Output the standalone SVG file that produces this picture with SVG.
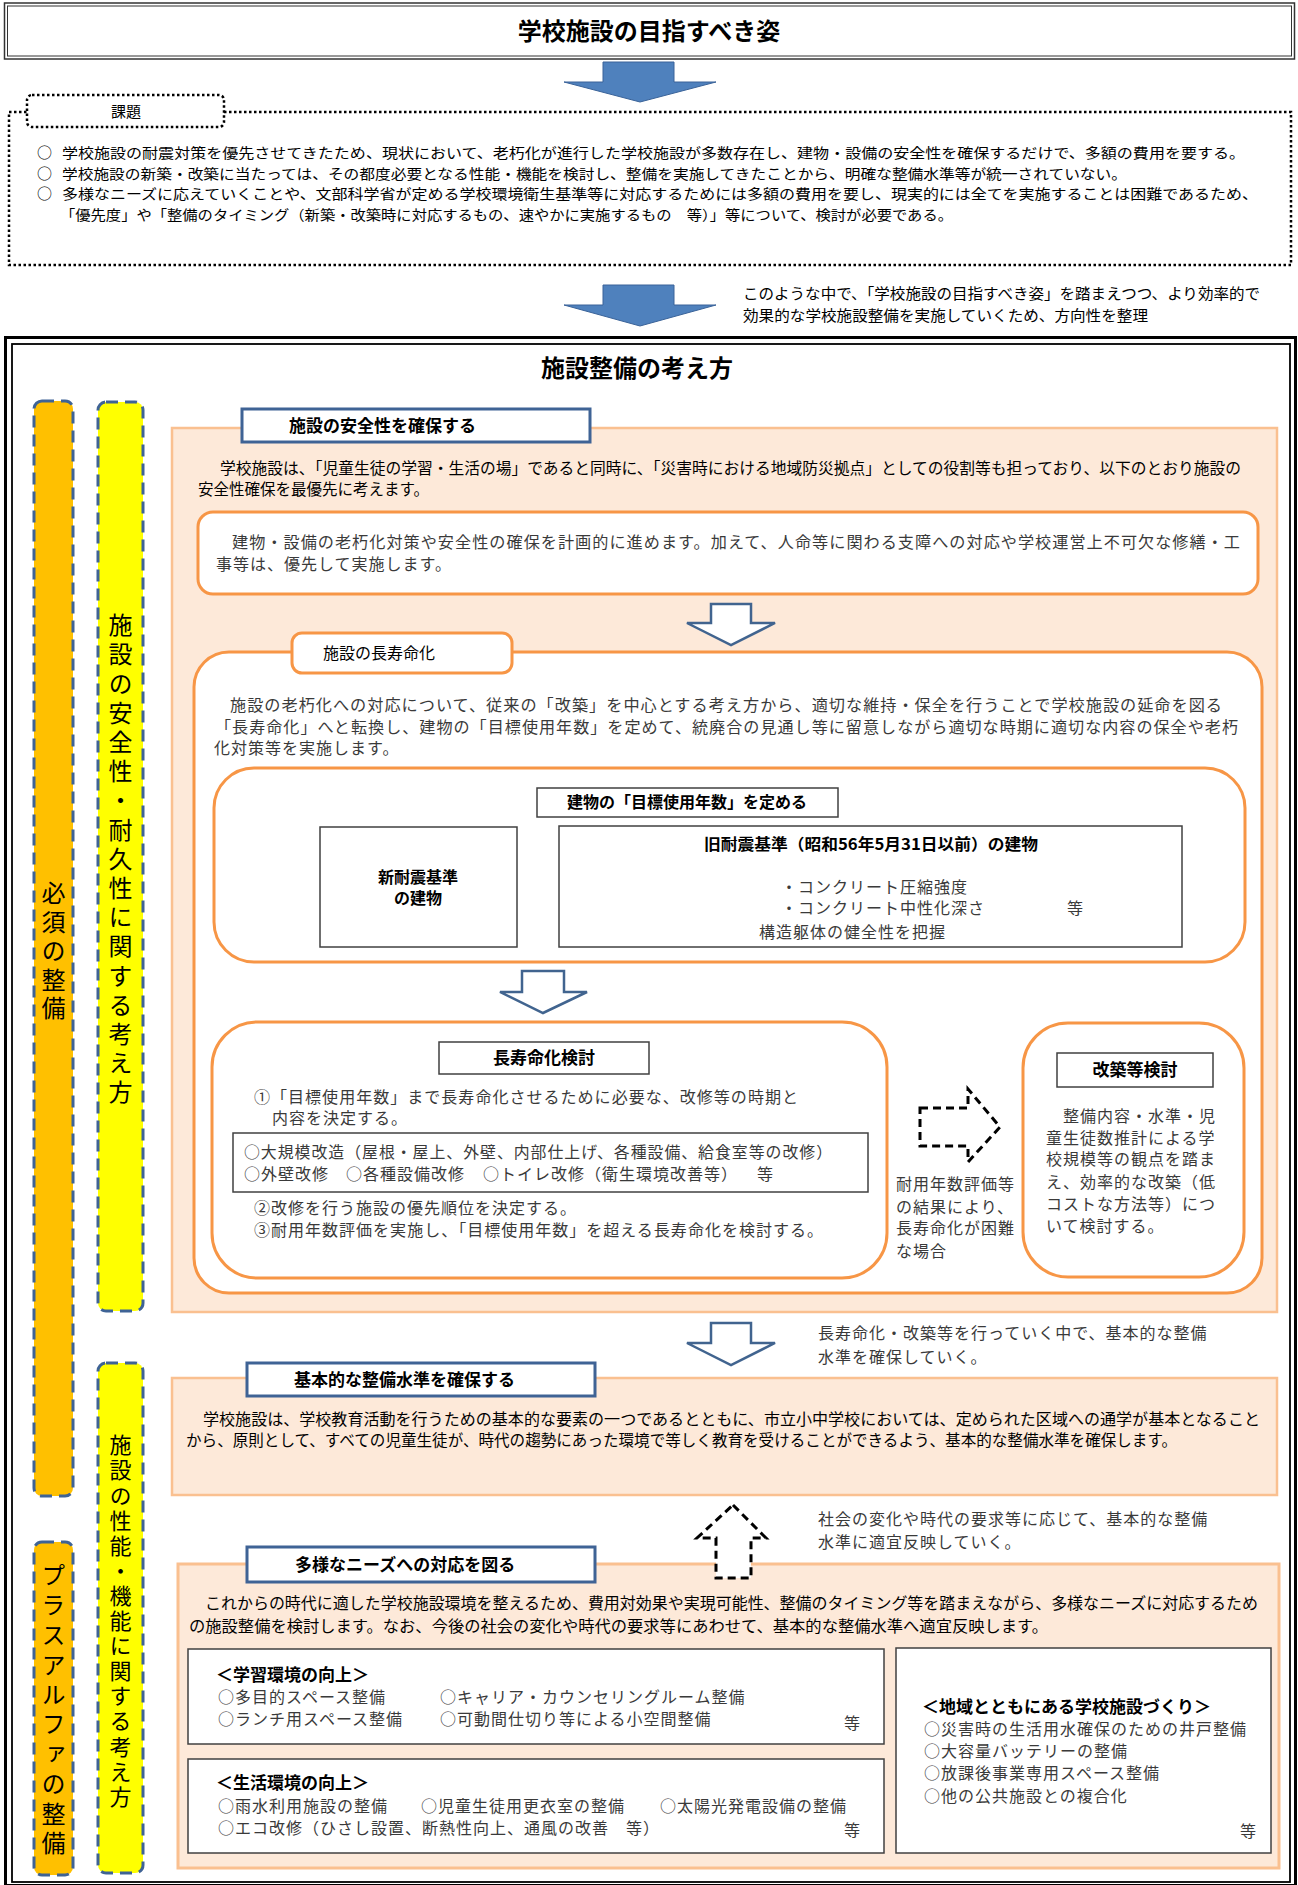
<svg xmlns="http://www.w3.org/2000/svg" width="1298" height="1885" viewBox="0 0 1298 1885">
<defs>
<style>
text{font-family:"Noto Sans CJK JP","Noto Sans CJK SC",sans-serif;fill:#000}
.g{font-size:15.5px}
.m{font-size:16px;fill:#3a3a3a;letter-spacing:1px}
.b{font-weight:700;font-size:17px}
.v{font-size:24px;writing-mode:vertical-rl;text-orientation:upright}
.panel{fill:#FDE9D9;stroke:#FAC090;stroke-width:2.5}
.ob{fill:#fff;stroke:#F79646;stroke-width:3}
.bl{fill:#fff;stroke:#3F6395;stroke-width:3}
.kb{fill:#fff;stroke:#404040;stroke-width:1.5}
.bar{stroke:#3F6395;stroke-width:3;stroke-dasharray:12 7}
.ha{fill:#fff;stroke:#41648F;stroke-width:2.5}
.da{fill:#fff;stroke:#000;stroke-width:3;stroke-dasharray:8 5}
.ba{fill:#4F81BD;stroke:#3A6399;stroke-width:1}
.dot{fill:none;stroke:#000;stroke-width:2.5;stroke-dasharray:2.5 2.5}
</style>
</defs>
<rect width="1298" height="1885" fill="#fff"/>

<g id="title">
<rect x="4.5" y="3" width="1290" height="56" fill="#fff" stroke="#333" stroke-width="1.5"/>
<rect x="7.5" y="6" width="1284" height="50" fill="none" stroke="#333" stroke-width="1"/>
<text x="649" y="40" font-size="24" font-weight="700" text-anchor="middle">学校施設の目指すべき姿</text>
</g>

<g id="kadai">
<rect class="dot" x="9" y="112" width="1282" height="153"/>
<rect class="dot" x="27" y="95" width="197" height="32" rx="5" style="fill:#fff"/>
<text x="126" y="117" font-size="15" text-anchor="middle">課題</text>
<text font-size="14"><tspan x="37" y="158" font-size="15">○</tspan><tspan x="62" y="158" textLength="1183" lengthAdjust="spacingAndGlyphs">学校施設の耐震対策を優先させてきたため、現状において、老朽化が進行した学校施設が多数存在し、建物・設備の安全性を確保するだけで、多額の費用を要する。</tspan><tspan x="37" y="178.5" font-size="15">○</tspan><tspan x="62" y="178.5" textLength="1065" lengthAdjust="spacingAndGlyphs">学校施設の新築・改築に当たっては、その都度必要となる性能・機能を検討し、整備を実施してきたことから、明確な整備水準等が統一されていない。</tspan><tspan x="37" y="199" font-size="15">○</tspan><tspan x="62" y="199" textLength="1196" lengthAdjust="spacingAndGlyphs">多様なニーズに応えていくことや、文部科学省が定める学校環境衛生基準等に対応するためには多額の費用を要し、現実的には全てを実施することは困難であるため、</tspan><tspan x="60" y="219.5" textLength="893" lengthAdjust="spacingAndGlyphs">「優先度」や「整備のタイミング（新築・改築時に対応するもの、速やかに実施するもの　等）」等について、検討が必要である。</tspan></text>
</g>

<g id="note-direction">
<text x="743" y="299" font-size="15" textLength="517" lengthAdjust="spacingAndGlyphs">このような中で、「学校施設の目指すべき姿」を踏まえつつ、より効率的で</text>
<text x="743" y="321" font-size="15" textLength="405" lengthAdjust="spacingAndGlyphs">効果的な学校施設整備を実施していくため、方向性を整理</text>
</g>

<g id="main-frame">
<rect x="5.5" y="337.5" width="1290" height="1548" fill="none" stroke="#000" stroke-width="3"/>
<rect x="12" y="344" width="1278" height="1538" fill="none" stroke="#000" stroke-width="1.8"/>
<text x="637" y="377" font-size="24" font-weight="700" text-anchor="middle">施設整備の考え方</text>
</g>

<g id="bar-hissu">
<rect class="bar" x="34" y="401" width="39" height="1095" rx="8" fill="#FFC000"/>
<text class="v" x="53.5" y="881" letter-spacing="4.8">必須の整備</text>
</g>
<g id="bar-plus">
<rect class="bar" x="34" y="1542" width="39" height="333" rx="8" fill="#FFC000"/>
<text class="v" x="53.5" y="1563" letter-spacing="5.8">プラスアルファの整備</text>
</g>
<g id="bar-anzen">
<rect class="bar" x="98" y="402" width="45" height="909" rx="8" fill="#FFFF00"/>
<text class="v" x="120.5" y="613" letter-spacing="5.2">施設の安全性・耐久性に関する考え方</text>
</g>
<g id="bar-seino">
<rect class="bar" x="98" y="1363" width="45" height="510" rx="8" fill="#FFFF00"/>
<text class="v" x="120.5" y="1434" letter-spacing="3.1" style="font-size:22px">施設の性能・機能に関する考え方</text>
</g>

<g id="sec-anzen">
<rect class="panel" x="172" y="428" width="1105" height="884"/>
<rect class="bl" x="242" y="409" width="348" height="33"/>
<text class="b" x="289" y="432">施設の安全性を確保する</text>
<text class="g" x="220" y="474" textLength="1021" lengthAdjust="spacingAndGlyphs">学校施設は、「児童生徒の学習・生活の場」であると同時に、「災害時における地域防災拠点」としての役割等も担っており、以下のとおり施設の</text>
<text class="g" x="198" y="495">安全性確保を最優先に考えます。</text>
</g>

<g id="box-keikaku">
<rect class="ob" x="198" y="512" width="1060" height="82" rx="15"/>
<text class="m" x="232" y="548" textLength="1009" lengthAdjust="spacingAndGlyphs">建物・設備の老朽化対策や安全性の確保を計画的に進めます。加えて、人命等に関わる支障への対応や学校運営上不可欠な修繕・工</text>
<text class="m" x="216" y="570">事等は、優先して実施します。</text>
</g>

<g id="box-choju">
<rect class="ob" x="194" y="652" width="1068" height="641" rx="35"/>
<rect class="ob" x="292" y="633" width="220" height="40" rx="10"/>
<text x="323" y="659" font-size="16">施設の長寿命化</text>
<text class="m" x="230" y="711" textLength="993" lengthAdjust="spacingAndGlyphs">施設の老朽化への対応について、従来の「改築」を中心とする考え方から、適切な維持・保全を行うことで学校施設の延命を図る</text>
<text class="m" x="215" y="733" textLength="1024" lengthAdjust="spacingAndGlyphs">「長寿命化」へと転換し、建物の「目標使用年数」を定めて、統廃合の見通し等に留意しながら適切な時期に適切な内容の保全や老朽</text>
<text class="m" x="214" y="754">化対策等を実施します。</text>
</g>

<g id="box-mokuhyo">
<rect class="ob" x="214" y="768" width="1031" height="194" rx="40"/>
<rect class="kb" x="537" y="788" width="301" height="29"/>
<text class="b" x="687" y="808" text-anchor="middle" style="font-size:16px">建物の「目標使用年数」を定める</text>
</g>
<g id="box-shintaishin">
<rect class="kb" x="320" y="827" width="197" height="120"/>
<text class="b" x="418" y="883" text-anchor="middle" style="font-size:16px">新耐震基準</text>
<text class="b" x="418" y="904" text-anchor="middle" style="font-size:16px">の建物</text>
</g>
<g id="box-kyutaishin">
<rect class="kb" x="559" y="826" width="623" height="121"/>
<text class="b" x="871" y="850" text-anchor="middle" style="font-size:16px" textLength="334" lengthAdjust="spacingAndGlyphs">旧耐震基準（昭和56年5月31日以前）の建物</text>
<text class="m" x="781" y="893">・コンクリート圧縮強度</text>
<text class="m" x="781" y="914">・コンクリート中性化深さ</text>
<text class="m" x="1067" y="914">等</text>
<text class="m" x="759" y="938">構造躯体の健全性を把握</text>
</g>

<g id="box-kento">
<rect class="ob" x="212" y="1022" width="675" height="256" rx="45"/>
<rect class="kb" x="439" y="1042" width="210" height="32"/>
<text class="b" x="544" y="1064" text-anchor="middle">長寿命化検討</text>
<text class="m" x="254" y="1103" textLength="545" lengthAdjust="spacingAndGlyphs">①「目標使用年数」まで長寿命化させるために必要な、改修等の時期と</text>
<text class="m" x="272" y="1124">内容を決定する。</text>
<rect class="kb" x="233" y="1133" width="635" height="59"/>
<text class="m" x="244" y="1158" textLength="589" lengthAdjust="spacingAndGlyphs">○大規模改造（屋根・屋上、外壁、内部仕上げ、各種設備、給食室等の改修）</text>
<text class="m" y="1180"><tspan x="244">○外壁改修</tspan><tspan x="346">○各種設備改修</tspan><tspan x="483">○トイレ改修（衛生環境改善等）</tspan><tspan x="757">等</tspan></text>
<text class="m" x="254" y="1214">②改修を行う施設の優先順位を決定する。</text>
<text class="m" x="254" y="1236" textLength="570" lengthAdjust="spacingAndGlyphs">③耐用年数評価を実施し、「目標使用年数」を超える長寿命化を検討する。</text>
</g>

<g id="note-konnan">
<text class="m" x="896" y="1190">耐用年数評価等</text>
<text class="m" x="896" y="1213">の結果により、</text>
<text class="m" x="896" y="1234">長寿命化が困難</text>
<text class="m" x="896" y="1257">な場合</text>
</g>

<g id="box-kaichiku">
<rect class="ob" x="1023" y="1023" width="221" height="254" rx="45"/>
<rect class="kb" x="1057" y="1053" width="156" height="34"/>
<text class="b" x="1135" y="1076" text-anchor="middle">改築等検討</text>
<text class="m" x="1063" y="1122">整備内容・水準・児</text>
<text class="m" x="1046" y="1144">童生徒数推計による学</text>
<text class="m" x="1046" y="1165">校規模等の観点を踏ま</text>
<text class="m" x="1046" y="1188">え、効率的な改築（低</text>
<text class="m" x="1046" y="1210">コストな方法等）につ</text>
<text class="m" x="1046" y="1232">いて検討する。</text>
</g>

<g id="note-kakuho">
<text class="m" x="818" y="1339">長寿命化・改築等を行っていく中で、基本的な整備</text>
<text class="m" x="818" y="1363">水準を確保していく。</text>
</g>

<g id="sec-kihon">
<rect class="panel" x="172" y="1378" width="1105" height="117"/>
<rect class="bl" x="247" y="1363" width="348" height="33"/>
<text class="b" x="294" y="1386">基本的な整備水準を確保する</text>
<text class="g" x="203" y="1425" textLength="1057" lengthAdjust="spacingAndGlyphs">学校施設は、学校教育活動を行うための基本的な要素の一つであるとともに、市立小中学校においては、定められた区域への通学が基本となること</text>
<text class="g" x="186" y="1446" textLength="991" lengthAdjust="spacingAndGlyphs">から、原則として、すべての児童生徒が、時代の趨勢にあった環境で等しく教育を受けることができるよう、基本的な整備水準を確保します。</text>
</g>

<g id="note-hanei">
<text class="m" x="818" y="1525">社会の変化や時代の要求等に応じて、基本的な整備</text>
<text class="m" x="818" y="1548">水準に適宜反映していく。</text>
</g>

<g id="sec-needs">
<rect class="panel" x="178" y="1564" width="1101" height="304" style="stroke-width:3"/>
<rect class="bl" x="247" y="1547" width="348" height="35"/>
<text class="b" x="295" y="1571">多様なニーズへの対応を図る</text>
<text class="g" x="205" y="1609" textLength="1053" lengthAdjust="spacingAndGlyphs">これからの時代に適した学校施設環境を整えるため、費用対効果や実現可能性、整備のタイミング等を踏まえながら、多様なニーズに対応するため</text>
<text class="g" x="189" y="1632" textLength="859" lengthAdjust="spacingAndGlyphs">の施設整備を検討します。なお、今後の社会の変化や時代の要求等にあわせて、基本的な整備水準へ適宜反映します。</text>
</g>

<g id="box-gakushu">
<rect class="kb" x="188" y="1649" width="696" height="95"/>
<text class="b" x="216" y="1681">＜学習環境の向上＞</text>
<text class="m" x="218" y="1703">○多目的スペース整備</text>
<text class="m" x="440" y="1703">○キャリア・カウンセリングルーム整備</text>
<text class="m" x="218" y="1725">○ランチ用スペース整備</text>
<text class="m" x="440" y="1725">○可動間仕切り等による小空間整備</text>
<text class="m" x="844" y="1729">等</text>
</g>

<g id="box-seikatsu">
<rect class="kb" x="188" y="1759" width="696" height="94"/>
<text class="b" x="216" y="1789">＜生活環境の向上＞</text>
<text class="m" x="218" y="1812">○雨水利用施設の整備</text>
<text class="m" x="421" y="1812">○児童生徒用更衣室の整備</text>
<text class="m" x="660" y="1812">○太陽光発電設備の整備</text>
<text class="m" x="218" y="1834">○エコ改修（ひさし設置、断熱性向上、通風の改善　等）</text>
<text class="m" x="844" y="1836">等</text>
</g>

<g id="box-chiiki">
<rect class="kb" x="896" y="1648" width="375" height="205"/>
<text class="b" x="922" y="1713">＜地域とともにある学校施設づくり＞</text>
<text class="m" x="924" y="1735">○災害時の生活用水確保のための井戸整備</text>
<text class="m" x="924" y="1757">○大容量バッテリーの整備</text>
<text class="m" x="924" y="1779">○放課後事業専用スペース整備</text>
<text class="m" x="924" y="1802">○他の公共施設との複合化</text>
<text class="m" x="1240" y="1837">等</text>
</g>

<g id="connectors">
<polygon class="ba" points="603,62 674,62 674,82 716,82 640,102 564,82 603,82"/>
<polygon class="ba" points="603,285 674,285 674,305 716,305 640,326 564,305 603,305"/>
<polygon class="ha" points="711,604 751,604 751,623 775,623 731,645 687,623 711,623"/>
<polygon class="ha" points="522,971 564,971 564,992 587,992 543,1013 500,992 522,992"/>
<polygon class="ha" points="711,1323 751,1323 751,1343 775,1343 731,1365 687,1343 711,1343"/>
<polygon class="da" points="920,1108 968,1108 968,1089 1000,1127 968,1162 968,1146 920,1146"/>
<polygon class="da" points="733,1505 766,1538 751,1538 751,1578 716,1578 716,1538 697,1538"/>
</g>
</svg>
